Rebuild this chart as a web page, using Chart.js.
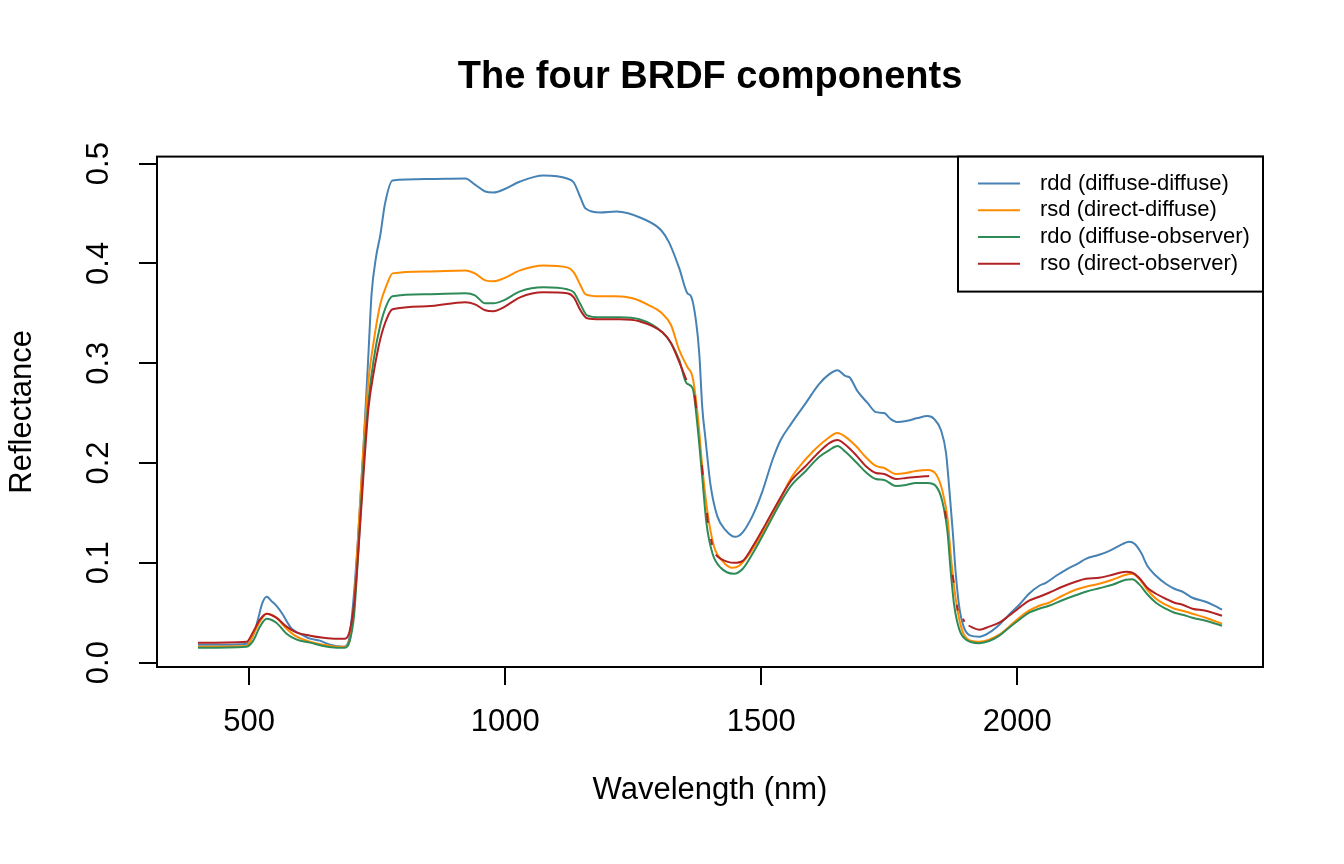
<!DOCTYPE html>
<html lang="en">
<head>
    <meta charset="UTF-8">
    <title>The four BRDF components</title>
    <script src="https://cdn.jsdelivr.net/npm/chart.js"></script>
    <style>
        body {
            margin: 0;
            background: #fff;
        }
        canvas {
            display: block;
        }
    </style>
</head>
<body>
    <canvas id="brdfChart" width="1344" height="864"></canvas>

    <script>
        // wavelengths (nm) and reflectance values
        const rddWl = [400, 450, 495, 510, 518, 526, 534, 545, 553, 566, 575, 583, 599, 619, 638, 658, 684, 694, 703, 713, 723, 733, 739, 748, 756, 765, 780, 847, 922, 941, 961, 977, 997, 1029, 1075, 1121, 1134, 1147, 1157, 1186, 1217, 1268, 1305, 1320, 1340, 1356, 1363, 1373, 1379, 1385, 1391, 1401, 1414, 1430, 1449, 1463, 1483, 1502, 1522, 1538, 1558, 1587, 1613, 1633, 1649, 1665, 1672, 1688, 1708, 1724, 1740, 1753, 1766, 1783, 1805, 1825, 1838, 1851, 1861, 1867, 1874, 1880, 1887, 1896, 1909, 1926, 1945, 1965, 1984, 2004, 2023, 2043, 2056, 2076, 2095, 2121, 2134, 2160, 2180, 2199, 2219, 2229, 2242, 2254, 2271, 2290, 2307, 2323, 2342, 2368, 2385, 2400];
        const rdd = [0.018, 0.018, 0.019, 0.030, 0.045, 0.060, 0.066, 0.061, 0.057, 0.048, 0.040, 0.034, 0.029, 0.024, 0.022, 0.018, 0.016, 0.021, 0.059, 0.128, 0.214, 0.310, 0.369, 0.407, 0.428, 0.459, 0.483, 0.4845, 0.485, 0.479, 0.472, 0.471, 0.474, 0.482, 0.488, 0.485, 0.481, 0.466, 0.455, 0.451, 0.452, 0.445, 0.433, 0.421, 0.395, 0.370, 0.367, 0.341, 0.310, 0.255, 0.225, 0.178, 0.147, 0.133, 0.126, 0.130, 0.147, 0.171, 0.203, 0.223, 0.239, 0.260, 0.279, 0.289, 0.293, 0.287, 0.286, 0.272, 0.260, 0.251, 0.250, 0.244, 0.241, 0.242, 0.245, 0.247, 0.244, 0.233, 0.210, 0.176, 0.132, 0.089, 0.055, 0.035, 0.027, 0.026, 0.030, 0.038, 0.048, 0.058, 0.069, 0.077, 0.080, 0.087, 0.093, 0.100, 0.104, 0.108, 0.112, 0.117, 0.121, 0.119, 0.110, 0.097, 0.087, 0.079, 0.074, 0.071, 0.065, 0.061, 0.057, 0.053];

        const rsdWl = [400, 495, 508, 521, 534, 553, 573, 593, 619, 645, 671, 687, 696, 705, 713, 723, 733, 743, 756, 769, 780, 847, 922, 941, 961, 977, 997, 1029, 1075, 1121, 1134, 1147, 1157, 1186, 1216, 1249, 1281, 1304, 1324, 1340, 1356, 1366, 1376, 1385, 1395, 1408, 1424, 1444, 1457, 1477, 1503, 1529, 1555, 1574, 1600, 1626, 1649, 1665, 1685, 1704, 1724, 1740, 1763, 1783, 1802, 1825, 1841, 1854, 1864, 1870, 1877, 1887, 1896, 1909, 1926, 1945, 1965, 1984, 2004, 2023, 2043, 2062, 2088, 2114, 2134, 2160, 2186, 2212, 2225, 2238, 2254, 2271, 2290, 2307, 2323, 2342, 2368, 2400];
        const rsd = [0.016, 0.0166, 0.028, 0.041, 0.049, 0.045, 0.034, 0.026, 0.021, 0.018, 0.016, 0.016, 0.022, 0.059, 0.128, 0.214, 0.283, 0.321, 0.359, 0.379, 0.390, 0.392, 0.393, 0.390, 0.383, 0.382, 0.385, 0.393, 0.398, 0.396, 0.391, 0.378, 0.369, 0.367, 0.367, 0.365, 0.358, 0.351, 0.338, 0.313, 0.296, 0.286, 0.248, 0.196, 0.151, 0.116, 0.102, 0.095, 0.097, 0.109, 0.130, 0.154, 0.182, 0.196, 0.211, 0.223, 0.230, 0.226, 0.217, 0.206, 0.197, 0.195, 0.189, 0.190, 0.192, 0.193, 0.189, 0.172, 0.144, 0.109, 0.075, 0.043, 0.028, 0.022, 0.021, 0.023, 0.028, 0.036, 0.045, 0.052, 0.057, 0.060, 0.067, 0.073, 0.076, 0.079, 0.083, 0.088, 0.089, 0.084, 0.073, 0.064, 0.058, 0.054, 0.052, 0.049, 0.045, 0.039];

        const rdoWl = [400, 495, 508, 521, 534, 553, 573, 593, 619, 645, 671, 687, 696, 705, 713, 723, 733, 743, 756, 769, 780, 847, 922, 941, 961, 977, 997, 1029, 1075, 1121, 1134, 1147, 1160, 1186, 1223, 1262, 1307, 1324, 1340, 1354, 1366, 1376, 1385, 1393, 1405, 1421, 1447, 1464, 1483, 1509, 1535, 1558, 1587, 1613, 1633, 1649, 1665, 1685, 1704, 1724, 1740, 1763, 1783, 1802, 1825, 1841, 1854, 1864, 1870, 1877, 1887, 1900, 1926, 1945, 1965, 1984, 2004, 2023, 2043, 2062, 2088, 2114, 2134, 2160, 2186, 2212, 2225, 2238, 2254, 2271, 2290, 2307, 2323, 2342, 2368, 2400];
        const rdo = [0.015, 0.016, 0.022, 0.036, 0.044, 0.040, 0.029, 0.023, 0.020, 0.0166, 0.015, 0.015, 0.021, 0.048, 0.110, 0.197, 0.262, 0.303, 0.338, 0.359, 0.367, 0.369, 0.370, 0.368, 0.360, 0.360, 0.363, 0.372, 0.376, 0.374, 0.371, 0.359, 0.348, 0.346, 0.346, 0.344, 0.331, 0.320, 0.303, 0.280, 0.275, 0.235, 0.185, 0.140, 0.109, 0.095, 0.089, 0.094, 0.109, 0.133, 0.158, 0.177, 0.192, 0.206, 0.213, 0.217, 0.211, 0.201, 0.191, 0.184, 0.183, 0.177, 0.178, 0.180, 0.180, 0.177, 0.161, 0.130, 0.092, 0.057, 0.033, 0.023, 0.0195, 0.0216, 0.027, 0.035, 0.043, 0.050, 0.054, 0.057, 0.0625, 0.0675, 0.071, 0.0745, 0.078, 0.083, 0.0836, 0.0786, 0.0685, 0.060, 0.054, 0.050, 0.048, 0.045, 0.042, 0.037];

        // rso has missing values in the water bands (null = gap)
        const rsoWl = [400, 495, 508, 521, 534, 553, 573, 593, 619, 645, 671, 687, 696, 705, 713, 723, 733, 743, 756, 769, 780, 847, 922, 941, 961, 977, 997, 1029, 1075, 1121, 1134, 1147, 1160, 1186, 1223, 1262, 1307, 1324, 1340, 1354, 1358, 1370, 1373, 1378, 1384, 1386, 1390, 1394, 1396, 1399, 1402, 1404, 1407, 1411, 1421, 1447, 1464, 1483, 1509, 1535, 1558, 1587, 1613, 1633, 1649, 1665, 1685, 1704, 1724, 1740, 1763, 1783, 1802, 1828, 1840, 1859, 1861, 1866, 1874, 1876, 1879, 1882, 1884, 1888, 1894, 1897, 1901, 1905, 1926, 1945, 1965, 1984, 2004, 2023, 2043, 2062, 2088, 2114, 2134, 2160, 2186, 2212, 2225, 2238, 2254, 2271, 2290, 2307, 2323, 2342, 2368, 2400];
        const rso = [0.020, 0.021, 0.031, 0.043, 0.049, 0.045, 0.036, 0.030, 0.027, 0.025, 0.024, 0.024, 0.031, 0.059, 0.110, 0.186, 0.255, 0.290, 0.324, 0.345, 0.354, 0.357, 0.361, 0.359, 0.353, 0.352, 0.356, 0.366, 0.371, 0.370, 0.366, 0.353, 0.345, 0.344, 0.344, 0.342, 0.331, 0.320, 0.301, 0.283, null, 0.268, 0.255, null, 0.198, 0.188, null, 0.150, 0.140, null, 0.124, 0.118, null, 0.108, 0.104, 0.100, 0.102, 0.116, 0.139, 0.163, 0.182, 0.197, 0.211, 0.220, 0.223, 0.218, 0.208, 0.197, 0.190, 0.189, 0.184, 0.185, 0.186, 0.187, null, 0.152, 0.144, null, 0.088, 0.080, null, 0.058, 0.052, null, 0.044, 0.041, null, 0.037, 0.033, 0.036, 0.040, 0.047, 0.055, 0.062, 0.066, 0.070, 0.076, 0.081, 0.084, 0.085, 0.088, 0.091, 0.090, 0.085, 0.075, 0.069, 0.064, 0.060, 0.058, 0.054, 0.052, 0.047];

        const seriesLabels = ['rdd (diffuse-diffuse)', 'rsd (direct-diffuse)', 'rdo (diffuse-observer)', 'rso (direct-observer)'];
        const seriesColors = ['#4682B4', '#FF8C00', '#2E8B57', '#B22222'];

        const xTicks = [500, 1000, 1500, 2000];
        const yTicks = [0.0, 0.1, 0.2, 0.3, 0.4, 0.5];

        const toPoints = (wl, vals) => wl.map((x, i) => ({ x: x, y: vals[i] }));

        Chart.defaults.font.family = "'Liberation Sans', Arial, Helvetica, sans-serif";
        Chart.defaults.color = '#000';

        // box around the plot region, like R's box()
        const plotBox = {
            id: 'plotBox',
            beforeDatasetsDraw(chart) {
                const { ctx, chartArea: a } = chart;
                ctx.save();
                ctx.strokeStyle = '#000';
                ctx.lineWidth = 2;
                ctx.strokeRect(a.left, a.top, a.right - a.left, a.bottom - a.top);
                ctx.restore();
            }
        };

        // legend box in the top-right corner of the plot
        const boxLegend = {
            id: 'boxLegend',
            afterDraw(chart) {
                const { ctx, chartArea: a } = chart;
                const w = 305, h = 135;
                const bx = a.right - w, by = a.top;
                ctx.save();
                ctx.fillStyle = '#fff';
                ctx.fillRect(bx, by, w, h);
                ctx.strokeStyle = '#000';
                ctx.lineWidth = 2;
                ctx.strokeRect(bx, by, w, h);
                ctx.font = "22px 'Liberation Sans', Arial, sans-serif";
                ctx.textBaseline = 'middle';
                ctx.textAlign = 'left';
                chart.data.datasets.forEach((ds, i) => {
                    const y = by + 27 + i * 26.7;
                    ctx.strokeStyle = ds.borderColor;
                    ctx.lineWidth = 2;
                    ctx.beginPath();
                    ctx.moveTo(bx + 20, y);
                    ctx.lineTo(bx + 62, y);
                    ctx.stroke();
                    ctx.fillStyle = '#000';
                    ctx.fillText(ds.label, bx + 82, y);
                });
                ctx.restore();
            }
        };

        const datasets = [
            [rddWl, rdd], [rsdWl, rsd], [rdoWl, rdo], [rsoWl, rso]
        ].map(([wl, vals], i) => ({
            label: seriesLabels[i],
            data: toPoints(wl, vals),
            borderColor: seriesColors[i],
            backgroundColor: seriesColors[i],
            borderWidth: 2,
            borderJoinStyle: 'round',
            pointRadius: 0,
            cubicInterpolationMode: 'monotone',
            spanGaps: false,
            order: 4 - i
        }));

        new Chart(document.getElementById('brdfChart'), {
            type: 'line',
            data: { datasets: datasets },
            options: {
                responsive: false,
                animation: false,
                layout: { padding: { left: 0, right: 81, top: 0, bottom: 0 } },
                plugins: {
                    legend: { display: false },
                    tooltip: { enabled: false },
                    title: {
                        display: true,
                        text: 'The four BRDF components',
                        fullSize: false,
                        font: { size: 38, weight: 'bold' },
                        padding: { top: 55, bottom: 56 }
                    }
                },
                scales: {
                    x: {
                        type: 'linear',
                        min: 320,
                        max: 2480,
                        afterBuildTicks: s => { s.ticks = xTicks.map(v => ({ value: v })); },
                        afterFit: s => { s.height = 197; },
                        border: { display: false },
                        grid: { drawOnChartArea: false, drawTicks: true, tickLength: 18, lineWidth: 2, color: '#000' },
                        ticks: { font: { size: 31 }, padding: 19, maxRotation: 0, callback: v => String(v) },
                        title: { display: true, text: 'Wavelength (nm)', font: { size: 31 }, padding: { top: 0, bottom: 55 } }
                    },
                    y: {
                        type: 'linear',
                        min: -0.0044,
                        max: 0.507,
                        afterBuildTicks: s => { s.ticks = yTicks.map(v => ({ value: v })); },
                        afterFit: s => { s.width = 157; },
                        border: { display: false },
                        grid: { drawOnChartArea: false, drawTicks: true, tickLength: 18, lineWidth: 2, color: '#000' },
                        ticks: { font: { size: 31 }, padding: 18, minRotation: 90, maxRotation: 90, crossAlign: 'center', callback: v => v.toFixed(1) },
                        title: { display: true, text: 'Reflectance', font: { size: 31 }, padding: { top: 4, bottom: 0 } }
                    }
                }
            },
            plugins: [plotBox, boxLegend]
        });
    </script>
</body>
</html>
